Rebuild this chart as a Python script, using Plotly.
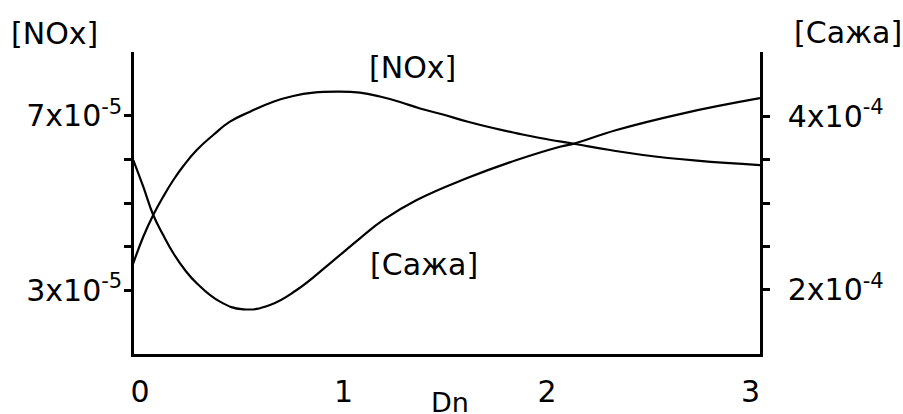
import plotly.graph_objects as go

# Dn values along the [NOx] curve
dn_nox = [-0.033, 0.016, 0.065, 0.114, 0.164, 0.213, 0.279, 0.360, 0.442, 0.541,
          0.655, 0.753, 0.852, 0.967, 1.081, 1.179, 1.278, 1.376, 1.489, 1.607,
          1.735, 1.853, 1.966, 2.138, 2.310, 2.472, 2.737, 3.047]
# [NOx] concentration
nox = [3.614e-5, 4.225e-5, 4.724e-5, 5.145e-5, 5.529e-5, 5.851e-5, 6.218e-5, 6.563e-5,
       6.869e-5, 7.099e-5, 7.329e-5, 7.460e-5, 7.536e-5, 7.559e-5, 7.536e-5, 7.448e-5,
       7.322e-5, 7.172e-5, 7.034e-5, 6.874e-5, 6.724e-5, 6.602e-5, 6.494e-5, 6.356e-5,
       6.218e-5, 6.103e-5, 5.972e-5, 5.870e-5]

# Dn values along the [Сажа] curve
dn_soot = [-0.033, 0.016, 0.065, 0.114, 0.164, 0.221, 0.279, 0.393, 0.508, 0.639,
           0.770, 0.934, 1.081, 1.196, 1.360, 1.605, 1.851, 2.064, 2.138, 2.342,
           2.670, 3.047]
# [Сажа] (soot) concentration
soot = [3.494e-4, 3.187e-4, 2.862e-4, 2.632e-4, 2.422e-4, 2.230e-4, 2.077e-4, 1.866e-4,
        1.778e-4, 1.828e-4, 2.000e-4, 2.307e-4, 2.594e-4, 2.805e-4, 3.034e-4, 3.284e-4,
        3.494e-4, 3.647e-4, 3.686e-4, 3.839e-4, 4.031e-4, 4.205e-4]

x_ticks = [0, 1, 2, 3]
nox_ticks = [3e-5, 4e-5, 5e-5, 6e-5, 7e-5]
nox_tick_text = ["3x10<sup>-5</sup>", "", "", "", "7x10<sup>-5</sup>"]
soot_ticks = [2e-4, 2.5e-4, 3e-4, 3.5e-4, 4e-4]
soot_tick_text = ["2x10<sup>-4</sup>", "", "", "", "4x10<sup>-4</sup>"]

nox_range = [1.529e-5, 8.471e-5]
soot_range = [1.264e-4, 4.736e-4]
x_range = [-0.0295, 3.047]

FONT = "DejaVu Sans"
FS = 30
INK = "black"

fig = go.Figure()
fig.add_trace(go.Scatter(x=dn_nox, y=nox, mode="lines", yaxis="y",
                         line=dict(color=INK, width=2.2, shape="spline", smoothing=1.3),
                         showlegend=False, hoverinfo="skip"))
fig.add_trace(go.Scatter(x=dn_soot, y=soot, mode="lines", yaxis="y2",
                         line=dict(color=INK, width=2.2, shape="spline", smoothing=1.3),
                         showlegend=False, hoverinfo="skip"))

common = dict(showgrid=False, zeroline=False, linecolor=INK, tickcolor=INK,
              automargin=False)

fig.update_layout(
    width=903, height=414,
    margin=dict(l=134, r=143, t=52, b=60, autoexpand=False),
    paper_bgcolor="white", plot_bgcolor="white",
    font=dict(family=FONT, size=FS, color=INK),
    xaxis=dict(range=x_range, tickvals=x_ticks, ticktext=[str(v) for v in x_ticks],
               showline=True, linewidth=2.5, ticks="", ticklabelstandoff=9, **common),
    yaxis=dict(range=nox_range, tickvals=nox_ticks, ticktext=nox_tick_text, side="left",
               showline=True, linewidth=2.5, ticks="outside", ticklen=7, tickwidth=2.5,
               ticklabelstandoff=-4, **common),
    yaxis3=dict(range=nox_range, tickvals=nox_ticks, overlaying="y", side="left",
                showline=False, ticks="inside", ticklen=7, tickwidth=2.5,
                showticklabels=False, **common),
    yaxis2=dict(range=soot_range, tickvals=soot_ticks, ticktext=soot_tick_text,
                overlaying="y", side="right", anchor="x",
                showline=True, linewidth=2.5, ticks="outside", ticklen=7, tickwidth=2.5,
                ticklabelstandoff=12, **common),
    yaxis4=dict(range=soot_range, tickvals=soot_ticks, overlaying="y", side="right",
                anchor="x", showline=False, ticks="inside", ticklen=7, tickwidth=2.5,
                showticklabels=False, **common),
)


def px_to_paper(px, py):
    return (px - 134) / 626, (354 - py) / 302


labels = [
    ("[NOx]", 54, 33),
    ("[Сажа]", 848, 32),
    ("[NOx]", 412, 67),
    ("[Сажа]", 424, 264),
]
for text, px, py in labels:
    ax, ay = px_to_paper(px, py)
    fig.add_annotation(text=text, x=ax, y=ay, xref="paper", yref="paper",
                       xanchor="center", yanchor="middle", showarrow=False,
                       font=dict(family=FONT, size=FS, color=INK))

# x-axis title
tx, ty = px_to_paper(450, 402)
fig.add_annotation(text="Dn", x=tx, y=ty, xref="paper", yref="paper",
                   xanchor="center", yanchor="middle", showarrow=False,
                   font=dict(family=FONT, size=27, color=INK))

fig.write_html("out.html")
